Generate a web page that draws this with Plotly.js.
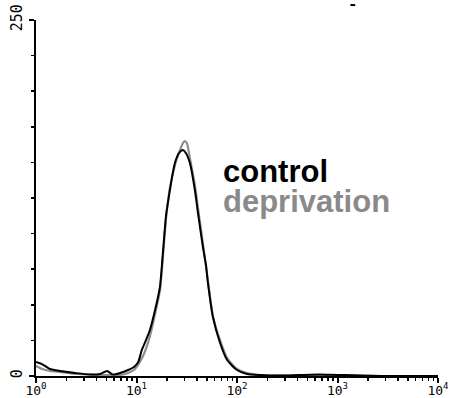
<!DOCTYPE html>
<html>
<head>
<meta charset="utf-8">
<script src="https://cdn.plot.ly/plotly-3.0.1.min.js"></script>
<style>html,body{margin:0;padding:0;background:#fff;}#chart{width:450px;height:398px;}</style>
</head>
<body>
<div id="chart"></div>
<script>
// Fluorescence intensity (log scale) and cell counts
const controlX = [1.00, 1.147, 1.378, 1.733, 2.444, 3.445, 4.33, 5.09, 5.83, 6.85, 8.25, 9.45, 10.4, 11.3, 12.1, 13.6, 15.3, 17.1, 18.4, 19.7, 21.5, 22.5, 24.1, 26.5, 29.0, 31.0, 34.0, 38.1, 40.9, 45.8, 49.1, 51.4, 57.6, 67.9, 79.8, 100.1, 125.7, 169, 268, 422, 670, 845, 1190, 1680, 2660, 5000, 10000];
const controlY = [9.8, 8.4, 4.9, 3.5, 2.1, 1.0, 1.4, 3.5, 1.0, 2.1, 4.2, 6.3, 9.8, 18.3, 23.2, 32.3, 46.3, 62.5, 88.5, 113, 130.6, 139, 149.6, 156.6, 158.7, 156.6, 149.6, 130.6, 114.5, 90.6, 78, 65.3, 41.4, 23.2, 11.2, 4.2, 1.4, 0.7, 0.35, 0.7, 1.0, 0.8, 0.7, 0.35, 0, 0, 0];
const deprivX = [1.00, 1.147, 1.378, 1.733, 2.58, 4.33, 6.85, 8.25, 9.45, 10.8, 12.1, 13.6, 15.3, 17.1, 18.4, 19.7, 21.5, 24.1, 26.5, 29.0, 30.3, 31.7, 34.0, 38.1, 40.9, 45.8, 51.4, 57.6, 67.9, 79.8, 100.1, 125.7, 169, 300, 600, 1200, 3000, 10000];
const deprivY = [7.0, 4.9, 3.5, 2.8, 1.4, 0.7, 0.7, 2.1, 4.2, 9.8, 16.9, 28, 43.5, 60, 85, 111, 132, 148, 157, 163.6, 165, 163.6, 153, 134, 118, 93, 67, 42, 25, 12.6, 4.9, 2.1, 0.7, 0.3, 0.6, 0.4, 0, 0];
const seriesNames = ["control", "deprivation"];
const xTickVals = [1, 10, 100, 1000, 10000];
const xTickText = ["10<sup>0</sup>", "10<sup>1</sup>", "10<sup>2</sup>", "10<sup>3</sup>", "10<sup>4</sup>"];
const yTickVals = [0, 250];
const yTickText = ["0", "250"];

const xMinor = [];
for (let d = 0; d < 4; d++) for (let k = 2; k <= 9; k++) xMinor.push(k * Math.pow(10, d));
const yMinor = [];
for (let v = 25; v < 250; v += 25) yMinor.push(v);

const traces = [
  {x: deprivX, y: deprivY, name: seriesNames[1], mode: "lines", line: {color: "#8e8e8e", width: 2.2, shape: "spline", smoothing: 0.6}},
  {x: controlX, y: controlY, name: seriesNames[0], mode: "lines", line: {color: "#000000", width: 2, shape: "spline", smoothing: 0.6}}
];

const layout = {
  width: 450, height: 398,
  margin: {l: 36, r: 12, t: 20, b: 22},
  paper_bgcolor: "#ffffff", plot_bgcolor: "#ffffff",
  showlegend: false,
  font: {family: "DejaVu Sans Mono", color: "#000"},
  xaxis: {
    type: "log", range: [0, 4],
    showgrid: false, zeroline: false,
    showline: true, linecolor: "#000", linewidth: 2,
    ticks: "outside", ticklen: 5, tickwidth: 2, tickcolor: "#000",
    tickvals: xTickVals, ticktext: xTickText,
    ticklabelstandoff: -4,
    tickfont: {family: "DejaVu Sans Mono", size: 13, color: "#000"},
    minor: {tickmode: "array", tickvals: xMinor, ticks: "outside", ticklen: 3, tickwidth: 1.5, tickcolor: "#000", showgrid: false}
  },
  yaxis: {
    range: [0, 250],
    showgrid: false, zeroline: false,
    showline: true, linecolor: "#000", linewidth: 2,
    ticks: "outside", ticklen: 5, tickwidth: 2, tickcolor: "#000",
    tickvals: yTickVals, ticktext: yTickText, tickangle: -90,
    ticklabelstandoff: 1,
    tickfont: {family: "DejaVu Sans Mono", size: 15, color: "#000"},
    minor: {tickmode: "array", tickvals: yMinor, ticks: "outside", ticklen: 3, tickwidth: 1.5, tickcolor: "#000", showgrid: false}
  },
  annotations: [
    {xref: "paper", yref: "paper", x: 0.46, y: 0.575, xanchor: "left", yanchor: "middle", showarrow: false,
     text: "<b>" + seriesNames[0] + "</b>", font: {family: "Liberation Sans", size: 31, color: "#000"}},
    {xref: "paper", yref: "paper", x: 0.46, y: 0.49, xanchor: "left", yanchor: "middle", showarrow: false,
     text: "<b>" + seriesNames[1] + "</b>", font: {family: "Liberation Sans", size: 31, color: "#8a8a8a"}}
  ],
  shapes: [
    {type: "line", xref: "paper", yref: "paper", x0: 0.782, x1: 0.794, y0: 1.042, y1: 1.042, line: {color: "#000", width: 2}}
  ]
};

Plotly.newPlot("chart", traces, layout, {staticPlot: true, displayModeBar: false});
</script>
</body>
</html>
